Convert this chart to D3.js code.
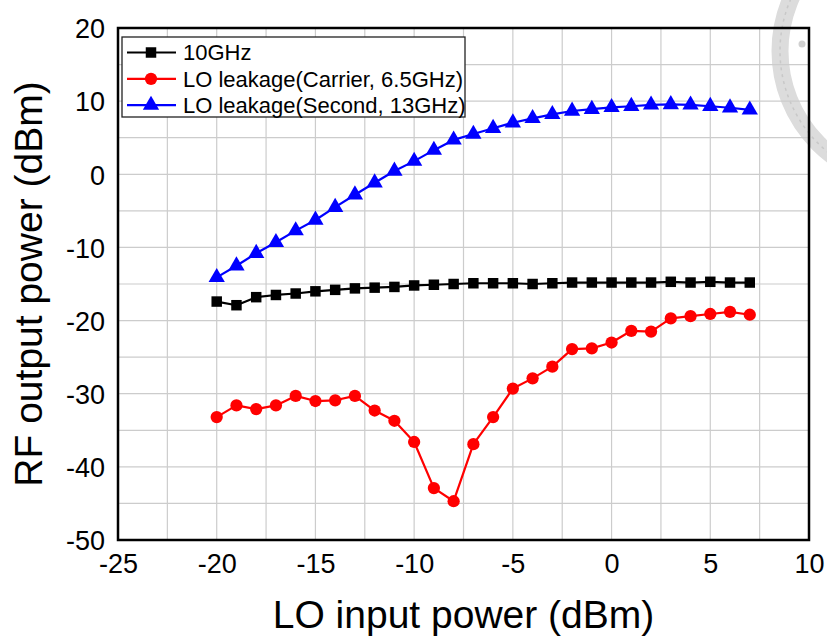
<!DOCTYPE html>
<html>
<head>
<meta charset="utf-8">
<script src="https://cdn.jsdelivr.net/npm/d3@7"></script>
<style>
  html, body { margin: 0; padding: 0; background: #fff; }
  svg { display: block; font-family: "Liberation Sans", Arial, sans-serif; }
</style>
</head>
<body>
<svg id="chart" width="827" height="637"></svg>
<script>
// LO input power sweep (dBm)
const loInput = d3.range(-20, 8, 1);

// Output power at 10 GHz (dBm)
const out10GHz = [-17.4, -17.9, -16.8, -16.5, -16.3, -16.0, -15.8, -15.6, -15.5, -15.4,
                  -15.2, -15.1, -15.0, -14.9, -14.9, -14.9, -15.0, -14.9, -14.8, -14.8,
                  -14.8, -14.8, -14.8, -14.7, -14.8, -14.7, -14.8, -14.8];

// LO leakage at the carrier, 6.5 GHz (dBm)
const leakCarrier = [-33.2, -31.6, -32.1, -31.6, -30.3, -31.0, -30.9, -30.3, -32.3, -33.7,
                     -36.6, -42.9, -44.7, -36.9, -33.2, -29.3, -27.9, -26.3, -23.9, -23.8,
                     -23.0, -21.4, -21.5, -19.7, -19.4, -19.1, -18.8, -19.2];

// LO leakage at the second harmonic, 13 GHz (dBm)
const leakSecond = [-14.1, -12.5, -10.8, -9.3, -7.7, -6.25, -4.5, -2.8, -1.15, 0.45,
                    1.8, 3.3, 4.7, 5.5, 6.3, 7.05, 7.65, 8.2, 8.65, 8.9,
                    9.15, 9.3, 9.5, 9.55, 9.5, 9.3, 9.1, 8.8];

const xTicks = [-25, -20, -15, -10, -5, 0, 5, 10];
const yTicks = [-50, -40, -30, -20, -10, 0, 10, 20];
const xGrid = d3.range(-25, 10.01, 2.5);
const yGrid = d3.range(-50, 20.01, 5);

const seriesNames = ["10GHz", "LO leakage(Carrier, 6.5GHz)", "LO leakage(Second, 13GHz)"];
const seriesColors = ["#000000", "#ff0000", "#0000ff"];
const seriesValues = [out10GHz, leakCarrier, leakSecond];
const seriesSymbols = [d3.symbolSquare, d3.symbolCircle, d3.symbolTriangle];
const symbolSizes = [110, 118, 115];

const svg = d3.select("#chart");
const plot = { left: 118, right: 809, top: 28, bottom: 540 };

const x = d3.scaleLinear().domain([-25, 10]).range([plot.left, plot.right]);
const y = d3.scaleLinear().domain([-50, 20]).range([plot.bottom, plot.top]);

// faint seal in the top-right corner
const seal = svg.append("g");
seal.append("circle").attr("cx", 911).attr("cy", 51).attr("r", 131)
  .attr("fill", "none").attr("stroke", "#dcdcdc").attr("stroke-width", 17);
seal.append("circle").attr("cx", 911).attr("cy", 51).attr("r", 131)
  .attr("fill", "none").attr("stroke", "#c8c8c8").attr("stroke-width", 1.5)
  .attr("stroke-dasharray", "3 4");
seal.append("circle").attr("cx", 802).attr("cy", 44).attr("r", 3.5).attr("fill", "#d0d0d0");

// grid
const grid = svg.append("g");
grid.selectAll("line.gx").data(xGrid).join("line")
  .attr("x1", d => x(d)).attr("x2", d => x(d))
  .attr("y1", plot.top).attr("y2", plot.bottom)
  .attr("stroke", "#cccccc").attr("stroke-width", 1.2);
grid.selectAll("line.gy").data(yGrid).join("line")
  .attr("y1", d => y(d)).attr("y2", d => y(d))
  .attr("x1", plot.left).attr("x2", plot.right)
  .attr("stroke", "#cccccc").attr("stroke-width", 1.2);

// axes (labels only; frame drawn separately)
const fmt = d => String(d);
const xAxis = svg.append("g")
  .attr("transform", `translate(0,${plot.bottom})`)
  .call(d3.axisBottom(x).tickValues(xTicks).tickSize(0).tickFormat(fmt));
const yAxis = svg.append("g")
  .attr("transform", `translate(${plot.left},0)`)
  .call(d3.axisLeft(y).tickValues(yTicks).tickSize(0).tickFormat(fmt));
[xAxis, yAxis].forEach(a => {
  a.select(".domain").remove();
  a.selectAll("text").attr("font-size", 27).attr("fill", "#000")
    .attr("font-family", '"Liberation Sans", Arial, sans-serif');
});
xAxis.selectAll("text").attr("y", 33).attr("dy", null);
yAxis.selectAll("text").attr("x", -13).attr("dy", "0.36em");

// series
seriesValues.forEach((vals, i) => {
  const pts = loInput.map((xv, j) => [xv, vals[j]]);
  const line = d3.line().x(d => x(d[0])).y(d => y(d[1]));
  svg.append("path").datum(pts)
    .attr("d", line).attr("fill", "none")
    .attr("stroke", seriesColors[i]).attr("stroke-width", 2.2)
    .attr("stroke-linejoin", "round");
  svg.append("g").selectAll("path").data(pts).join("path")
    .attr("transform", d => `translate(${x(d[0])},${y(d[1])})`)
    .attr("d", d3.symbol().type(seriesSymbols[i]).size(symbolSizes[i]))
    .attr("fill", seriesColors[i]);
});

// frame
svg.append("rect")
  .attr("x", plot.left).attr("y", plot.top)
  .attr("width", plot.right - plot.left).attr("height", plot.bottom - plot.top)
  .attr("fill", "none").attr("stroke", "#000").attr("stroke-width", 2.5);

// legend
const lg = svg.append("g");
lg.append("rect").attr("x", 122).attr("y", 37).attr("width", 343).attr("height", 80)
  .attr("fill", "#fff").attr("stroke", "#222").attr("stroke-width", 1.3);
seriesNames.forEach((name, i) => {
  const ly = 52.5 + i * 26.3;
  lg.append("line").attr("x1", 127).attr("x2", 176).attr("y1", ly).attr("y2", ly)
    .attr("stroke", seriesColors[i]).attr("stroke-width", 2.2);
  lg.append("path").attr("transform", `translate(151,${ly})`)
    .attr("d", d3.symbol().type(seriesSymbols[i]).size(symbolSizes[i]))
    .attr("fill", seriesColors[i]);
  lg.append("text").attr("x", 183).attr("y", ly).attr("dy", "0.36em")
    .attr("font-size", 22).attr("fill", "#000").text(name);
});

// axis titles
svg.append("text").attr("x", (plot.left + plot.right) / 2).attr("y", 628)
  .attr("text-anchor", "middle").attr("font-size", 39).attr("fill", "#000")
  .text("LO input power (dBm)");
svg.append("text")
  .attr("transform", `translate(42,${(plot.top + plot.bottom) / 2}) rotate(-90)`)
  .attr("text-anchor", "middle").attr("font-size", 39).attr("fill", "#000")
  .text("RF output power (dBm)");
</script>
</body>
</html>
